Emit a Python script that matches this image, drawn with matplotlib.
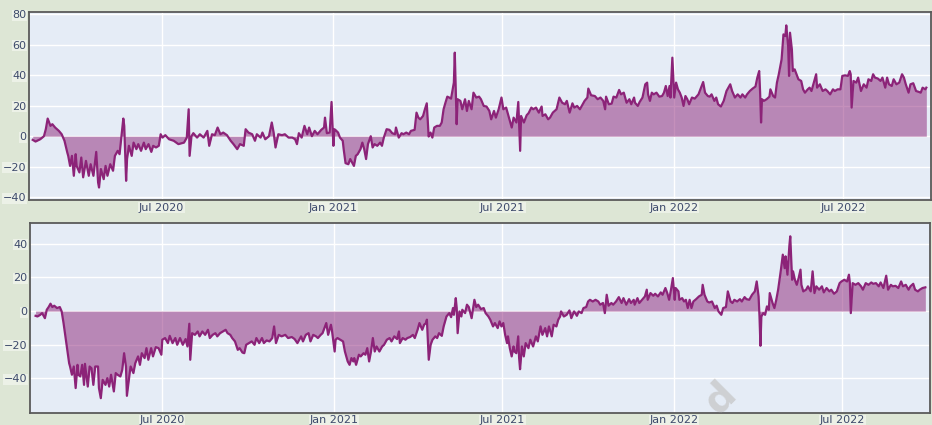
import matplotlib
matplotlib.use("Agg")
import matplotlib.pyplot as plt
import pandas as pd

# upper panel series
top_dates = [
    "2020-02-14", "2020-02-17", "2020-02-22", "2020-02-26", "2020-02-28", "2020-03-01", "2020-03-04", "2020-03-06",
    "2020-03-09", "2020-03-13", "2020-03-16", "2020-03-19", "2020-03-22", "2020-03-23", "2020-03-25", "2020-03-27",
    "2020-03-29", "2020-03-31", "2020-04-01", "2020-04-04", "2020-04-06", "2020-04-08", "2020-04-11", "2020-04-14",
    "2020-04-16", "2020-04-19", "2020-04-22", "2020-04-24", "2020-04-25", "2020-04-27", "2020-04-30", "2020-05-02",
    "2020-05-04", "2020-05-07", "2020-05-10", "2020-05-12", "2020-05-15", "2020-05-17", "2020-05-19", "2020-05-21",
    "2020-05-22", "2020-05-24", "2020-05-25", "2020-05-27", "2020-05-30", "2020-06-01", "2020-06-04", "2020-06-06",
    "2020-06-09", "2020-06-12", "2020-06-14", "2020-06-17", "2020-06-20", "2020-06-22", "2020-06-25", "2020-06-28",
    "2020-06-30", "2020-07-02", "2020-07-05", "2020-07-09", "2020-07-14", "2020-07-19", "2020-07-25", "2020-07-28",
    "2020-07-30", "2020-07-31", "2020-08-02", "2020-08-04", "2020-08-08", "2020-08-11", "2020-08-15", "2020-08-19",
    "2020-08-21", "2020-08-24", "2020-08-27", "2020-08-30", "2020-09-02", "2020-09-05", "2020-09-09", "2020-09-13",
    "2020-09-16", "2020-09-20", "2020-09-23", "2020-09-27", "2020-09-29", "2020-10-02", "2020-10-06", "2020-10-09",
    "2020-10-11", "2020-10-15", "2020-10-17", "2020-10-20", "2020-10-24", "2020-10-27", "2020-10-29", "2020-10-31",
    "2020-11-03", "2020-11-07", "2020-11-10", "2020-11-14", "2020-11-18", "2020-11-21", "2020-11-23", "2020-11-25",
    "2020-11-28", "2020-12-01", "2020-12-04", "2020-12-06", "2020-12-09", "2020-12-12", "2020-12-15", "2020-12-19",
    "2020-12-22", "2020-12-23", "2020-12-25", "2020-12-28", "2020-12-30", "2021-01-01", "2021-01-02", "2021-01-03",
    "2021-01-06", "2021-01-08", "2021-01-11", "2021-01-12", "2021-01-14", "2021-01-17", "2021-01-19", "2021-01-21",
    "2021-01-23", "2021-01-25", "2021-01-27", "2021-01-30", "2021-02-01", "2021-02-03", "2021-02-05", "2021-02-07",
    "2021-02-10", "2021-02-12", "2021-02-14", "2021-02-17", "2021-02-20", "2021-02-22", "2021-02-24", "2021-02-27",
    "2021-03-02", "2021-03-05", "2021-03-08", "2021-03-09", "2021-03-12", "2021-03-15", "2021-03-17", "2021-03-20",
    "2021-03-23", "2021-03-25", "2021-03-29", "2021-03-31", "2021-04-02", "2021-04-04", "2021-04-07", "2021-04-09",
    "2021-04-11", "2021-04-13", "2021-04-15", "2021-04-17", "2021-04-19", "2021-04-22", "2021-04-25", "2021-04-27",
    "2021-04-29", "2021-05-01", "2021-05-03", "2021-05-05", "2021-05-07", "2021-05-10", "2021-05-11", "2021-05-13",
    "2021-05-14", "2021-05-17", "2021-05-19", "2021-05-22", "2021-05-24", "2021-05-26", "2021-05-29", "2021-05-31",
    "2021-06-03", "2021-06-06", "2021-06-08", "2021-06-11", "2021-06-14", "2021-06-17", "2021-06-19", "2021-06-22",
    "2021-06-24", "2021-06-27", "2021-06-30", "2021-07-02", "2021-07-05", "2021-07-08", "2021-07-11", "2021-07-13",
    "2021-07-16", "2021-07-18", "2021-07-20", "2021-07-21", "2021-07-24", "2021-07-27", "2021-07-29", "2021-08-01",
    "2021-08-03", "2021-08-06", "2021-08-09", "2021-08-12", "2021-08-13", "2021-08-16", "2021-08-19", "2021-08-21",
    "2021-08-24", "2021-08-28", "2021-08-31", "2021-09-03", "2021-09-06", "2021-09-08", "2021-09-11", "2021-09-14",
    "2021-09-16", "2021-09-19", "2021-09-22", "2021-09-25", "2021-09-27", "2021-09-30", "2021-10-01", "2021-10-04",
    "2021-10-08", "2021-10-11", "2021-10-14", "2021-10-17", "2021-10-19", "2021-10-20", "2021-10-23", "2021-10-26",
    "2021-10-28", "2021-10-31", "2021-11-03", "2021-11-05", "2021-11-08", "2021-11-11", "2021-11-14", "2021-11-16",
    "2021-11-19", "2021-11-20", "2021-11-23", "2021-11-25", "2021-11-28", "2021-12-01", "2021-12-03", "2021-12-04",
    "2021-12-06", "2021-12-08", "2021-12-10", "2021-12-13", "2021-12-16", "2021-12-19", "2021-12-21", "2021-12-23",
    "2021-12-25", "2021-12-27", "2021-12-28", "2021-12-30", "2022-01-01", "2022-01-03", "2022-01-05", "2022-01-07",
    "2022-01-09", "2022-01-11", "2022-01-13", "2022-01-15", "2022-01-17", "2022-01-20", "2022-01-23", "2022-01-27",
    "2022-01-29", "2022-02-01", "2022-02-03", "2022-02-06", "2022-02-08", "2022-02-10", "2022-02-13", "2022-02-15",
    "2022-02-17", "2022-02-20", "2022-02-23", "2022-02-26", "2022-03-02", "2022-03-04", "2022-03-07", "2022-03-10",
    "2022-03-13", "2022-03-15", "2022-03-18", "2022-03-20", "2022-03-23", "2022-03-26", "2022-03-29", "2022-03-31",
    "2022-04-02", "2022-04-03", "2022-04-04", "2022-04-05", "2022-04-07", "2022-04-10", "2022-04-13", "2022-04-14",
    "2022-04-17", "2022-04-19", "2022-04-21", "2022-04-23", "2022-04-24", "2022-04-26", "2022-04-28", "2022-04-30",
    "2022-05-01", "2022-05-03", "2022-05-04", "2022-05-05", "2022-05-07", "2022-05-08", "2022-05-10", "2022-05-12",
    "2022-05-14", "2022-05-17", "2022-05-19", "2022-05-21", "2022-05-24", "2022-05-26", "2022-05-28", "2022-05-30",
    "2022-06-02", "2022-06-03", "2022-06-06", "2022-06-09", "2022-06-12", "2022-06-14", "2022-06-17", "2022-06-20",
    "2022-06-22", "2022-06-25", "2022-06-28", "2022-06-30", "2022-07-03", "2022-07-06", "2022-07-08", "2022-07-09",
    "2022-07-10", "2022-07-12", "2022-07-15", "2022-07-17", "2022-07-20", "2022-07-23", "2022-07-26", "2022-07-28",
    "2022-07-31", "2022-08-02", "2022-08-04", "2022-08-07", "2022-08-10", "2022-08-12", "2022-08-15", "2022-08-17",
    "2022-08-19", "2022-08-22", "2022-08-24", "2022-08-27", "2022-08-30", "2022-09-02", "2022-09-04", "2022-09-06",
    "2022-09-09", "2022-09-11", "2022-09-14", "2022-09-17", "2022-09-20", "2022-09-22", "2022-09-24", "2022-09-27",
    "2022-09-28",
]
top_values = [
    -2.4, -3.5, -2, 0, 4.6, 11.6, 6.8, 7.9,
    5.7, 3.5, 1.3, -3, -10.7, -12.9, -19.5, -12.9,
    -26, -11.8, -19.5, -23.8, -14, -27, -16.2, -26,
    -18.4, -26, -10.3, -30.4, -33.7, -21.6, -28.2, -19.5,
    -26, -18.4, -22.7, -12.9, -9.6, -11.8, 0, 11.6,
    6.8, -29.3, -15, -6.3, -12.9, -4.2, -8.5, -5.2,
    -9.6, -4.2, -8.5, -5.2, -10.3, -6.3, -7.4, -6.3,
    1.3, -0.9, 0.7, -2, -3, -5.2, -4.2, -0.9,
    17.7, -12.9, 0, 2, -0.9, 1.3, -0.9, 3.5,
    -6.3, 1.3, 0.7, 5.7, 1.3, 2.4, 0.7, -3,
    -5.2, -8.5, -5.2, -6.3, 4.6, 2.4, 1.3, -3,
    1.3, -0.9, 2.4, -2, 0, 9, 2.4, -7.4,
    1.3, 0.7, 1.3, -0.9, -0.9, -2, -5.2, 2,
    -0.9, 6.8, 1.3, 5.7, 0, 3.5, 1.3, 4.2,
    5.7, 12.2, 2, 2.4, 22.5, -6.3, 4.6, 4.2,
    2.4, -0.9, -3, -8.5, -17.7, -18.4, -15, -17.3,
    -19.5, -12.9, -11.8, -8.5, -4.2, -8.5, -15, -5.2,
    0, -7.4, -5.2, -6.3, -4.2, -6.3, -0.9, 4.6,
    4.2, 2, 1.3, 5.7, -0.9, 2, 1.3, 2.4,
    1.3, 3.5, 4.2, 15.5, 12.2, 11.1, 13.3, 17.7,
    21.6, -0.2, 2.4, -0.9, 5.7, 6.8, 6.8, 9,
    17.7, 22, 26, 25.4, 24.7, 35.2, 54.9, 7.9,
    24.3, 23.2, 17.7, 24.3, 16.6, 23.2, 17.7, 28.6,
    25.4, 26, 24.3, 19.9, 19.5, 16.6, 11.1, 16.6,
    12.2, 17.7, 25.4, 17.7, 18.8, 12.2, 5.7, 12.2,
    9, 22.5, -9.6, 13.3, 9, 13.8, 15.1, 18.8,
    17.7, 18.8, 15.5, 19.5, 13.3, 14.4, 11.1, 12.2,
    15.5, 17.7, 25.4, 22, 21, 23.2, 15.5, 21.6,
    18.8, 19.9, 17.7, 21, 23.2, 25.4, 31.3, 26.9,
    26.4, 24.3, 25.4, 23.2, 17.7, 26, 21, 21.4,
    26, 25.4, 30.4, 27.5, 28.6, 22, 24.3, 21,
    25.4, 22, 19.9, 22.5, 25.4, 34.1, 35.2, 27.5,
    23.2, 28.6, 27.5, 28.6, 26, 26.4, 28.6, 33,
    26.4, 33, 25.4, 51.6, 25.4, 35.2, 30.8, 28.6,
    25.4, 19.9, 26.4, 24.3, 21, 25.4, 24.7, 27.5,
    30.8, 35.6, 28.6, 26.4, 26, 27.5, 23.2, 25.4,
    21, 19.5, 23.2, 29.7, 34.1, 29.7, 25.4, 27.5,
    25.4, 27.5, 25.4, 27.5, 29.7, 31.3, 32.6, 38.5,
    42.8, 28.6, 9, 24.3, 23.2, 24.3, 26, 30.8,
    26.4, 25.4, 35.2, 40.7, 43.9, 50.5, 66.9, 65.8,
    72.8, 59.2, 39.6, 68, 57, 42.8, 43.9, 40.7,
    37.4, 36.3, 30.8, 28.6, 30.8, 31.9, 29.7, 34.1,
    40.7, 31.9, 34.1, 29.7, 30.8, 29.7, 27.5, 30.8,
    29.7, 30.8, 30.8, 39.6, 40, 39.6, 42.8, 40.7,
    18.8, 36.3, 35.2, 38.5, 29.7, 34.1, 31.9, 37.4,
    36.3, 40.7, 38.5, 37.9, 36.3, 38.5, 31.9, 38.5,
    34.1, 33, 37.4, 34.1, 35.2, 40.7, 38.5, 34.1,
    28.6, 34.1, 34.8, 29.7, 29.1, 28.6, 31.9, 30.8,
    31.9,
]

# lower panel series
bottom_dates = [
    "2020-02-16", "2020-02-18", "2020-02-21", "2020-02-23", "2020-02-26", "2020-02-28", "2020-03-01", "2020-03-03",
    "2020-03-05", "2020-03-07", "2020-03-10", "2020-03-13", "2020-03-15", "2020-03-17", "2020-03-19", "2020-03-21",
    "2020-03-23", "2020-03-24", "2020-03-26", "2020-03-28", "2020-03-30", "2020-04-01", "2020-04-02", "2020-04-04",
    "2020-04-06", "2020-04-08", "2020-04-09", "2020-04-12", "2020-04-14", "2020-04-16", "2020-04-18", "2020-04-20",
    "2020-04-23", "2020-04-24", "2020-04-26", "2020-04-28", "2020-05-01", "2020-05-03", "2020-05-05", "2020-05-07",
    "2020-05-10", "2020-05-12", "2020-05-14", "2020-05-17", "2020-05-19", "2020-05-21", "2020-05-23", "2020-05-24",
    "2020-05-27", "2020-05-28", "2020-05-31", "2020-06-02", "2020-06-05", "2020-06-07", "2020-06-09", "2020-06-12",
    "2020-06-14", "2020-06-16", "2020-06-19", "2020-06-21", "2020-06-24", "2020-06-27", "2020-06-30", "2020-07-01",
    "2020-07-04", "2020-07-07", "2020-07-09", "2020-07-12", "2020-07-15", "2020-07-17", "2020-07-20", "2020-07-23",
    "2020-07-26", "2020-07-28", "2020-07-30", "2020-07-31", "2020-08-02", "2020-08-05", "2020-08-08", "2020-08-10",
    "2020-08-13", "2020-08-16", "2020-08-19", "2020-08-21", "2020-08-24", "2020-08-27", "2020-08-29", "2020-09-01",
    "2020-09-04", "2020-09-07", "2020-09-09", "2020-09-12", "2020-09-14", "2020-09-17", "2020-09-20", "2020-09-22",
    "2020-09-25", "2020-09-27", "2020-09-29", "2020-10-02", "2020-10-05", "2020-10-08", "2020-10-10", "2020-10-13",
    "2020-10-16", "2020-10-18", "2020-10-21", "2020-10-24", "2020-10-27", "2020-10-29", "2020-10-31", "2020-11-03",
    "2020-11-06", "2020-11-10", "2020-11-13", "2020-11-17", "2020-11-20", "2020-11-23", "2020-11-27", "2020-11-29",
    "2020-12-02", "2020-12-05", "2020-12-07", "2020-12-10", "2020-12-13", "2020-12-15", "2020-12-18", "2020-12-20",
    "2020-12-23", "2020-12-24", "2020-12-26", "2020-12-29", "2020-12-30", "2021-01-02", "2021-01-03", "2021-01-05",
    "2021-01-08", "2021-01-11", "2021-01-13", "2021-01-16", "2021-01-18", "2021-01-20", "2021-01-22", "2021-01-23",
    "2021-01-25", "2021-01-28", "2021-01-30", "2021-02-02", "2021-02-04", "2021-02-06", "2021-02-08", "2021-02-10",
    "2021-02-12", "2021-02-14", "2021-02-16", "2021-02-19", "2021-02-22", "2021-02-24", "2021-02-27", "2021-03-02",
    "2021-03-04", "2021-03-07", "2021-03-10", "2021-03-12", "2021-03-13", "2021-03-16", "2021-03-19", "2021-03-21",
    "2021-03-24", "2021-03-27", "2021-03-29", "2021-04-01", "2021-04-03", "2021-04-06", "2021-04-08", "2021-04-10",
    "2021-04-11", "2021-04-13", "2021-04-15", "2021-04-17", "2021-04-20", "2021-04-22", "2021-04-24", "2021-04-27",
    "2021-04-29", "2021-05-02", "2021-05-05", "2021-05-07", "2021-05-09", "2021-05-10", "2021-05-12", "2021-05-13",
    "2021-05-14", "2021-05-16", "2021-05-18", "2021-05-19", "2021-05-22", "2021-05-24", "2021-05-26", "2021-05-29",
    "2021-06-01", "2021-06-03", "2021-06-05", "2021-06-08", "2021-06-11", "2021-06-13", "2021-06-16", "2021-06-18",
    "2021-06-21", "2021-06-23", "2021-06-26", "2021-06-28", "2021-06-30", "2021-07-02", "2021-07-04", "2021-07-06",
    "2021-07-07", "2021-07-09", "2021-07-11", "2021-07-13", "2021-07-14", "2021-07-16", "2021-07-18", "2021-07-19",
    "2021-07-20", "2021-07-22", "2021-07-24", "2021-07-26", "2021-07-29", "2021-07-31", "2021-08-03", "2021-08-06",
    "2021-08-08", "2021-08-11", "2021-08-13", "2021-08-16", "2021-08-18", "2021-08-20", "2021-08-23", "2021-08-25",
    "2021-08-28", "2021-08-30", "2021-09-01", "2021-09-02", "2021-09-05", "2021-09-08", "2021-09-11", "2021-09-13",
    "2021-09-16", "2021-09-19", "2021-09-21", "2021-09-24", "2021-09-26", "2021-09-29", "2021-10-01", "2021-10-03",
    "2021-10-06", "2021-10-09", "2021-10-12", "2021-10-14", "2021-10-17", "2021-10-19", "2021-10-21", "2021-10-23",
    "2021-10-26", "2021-10-28", "2021-10-31", "2021-11-03", "2021-11-06", "2021-11-08", "2021-11-11", "2021-11-14",
    "2021-11-16", "2021-11-19", "2021-11-20", "2021-11-23", "2021-11-25", "2021-11-28", "2021-12-01", "2021-12-03",
    "2021-12-04", "2021-12-07", "2021-12-10", "2021-12-12", "2021-12-15", "2021-12-18", "2021-12-20", "2021-12-23",
    "2021-12-25", "2021-12-27", "2021-12-29", "2021-12-31", "2022-01-02", "2022-01-03", "2022-01-06", "2022-01-07",
    "2022-01-10", "2022-01-12", "2022-01-14", "2022-01-16", "2022-01-18", "2022-01-20", "2022-01-22", "2022-01-25",
    "2022-01-28", "2022-01-31", "2022-02-01", "2022-02-03", "2022-02-06", "2022-02-08", "2022-02-11", "2022-02-14",
    "2022-02-16", "2022-02-18", "2022-02-21", "2022-02-23", "2022-02-26", "2022-02-28", "2022-03-03", "2022-03-05",
    "2022-03-07", "2022-03-10", "2022-03-13", "2022-03-15", "2022-03-18", "2022-03-20", "2022-03-23", "2022-03-26",
    "2022-03-29", "2022-03-31", "2022-04-02", "2022-04-03", "2022-04-04", "2022-04-05", "2022-04-07", "2022-04-09",
    "2022-04-11", "2022-04-13", "2022-04-14", "2022-04-17", "2022-04-19", "2022-04-21", "2022-04-23", "2022-04-24",
    "2022-04-26", "2022-04-28", "2022-04-30", "2022-05-01", "2022-05-03", "2022-05-05", "2022-05-06", "2022-05-08",
    "2022-05-09", "2022-05-11", "2022-05-13", "2022-05-15", "2022-05-17", "2022-05-18", "2022-05-20", "2022-05-23",
    "2022-05-25", "2022-05-28", "2022-05-30", "2022-06-01", "2022-06-03", "2022-06-06", "2022-06-09", "2022-06-11",
    "2022-06-14", "2022-06-17", "2022-06-19", "2022-06-22", "2022-06-25", "2022-06-28", "2022-06-30", "2022-07-03",
    "2022-07-06", "2022-07-08", "2022-07-09", "2022-07-10", "2022-07-12", "2022-07-15", "2022-07-18", "2022-07-21",
    "2022-07-23", "2022-07-26", "2022-07-29", "2022-08-01", "2022-08-03", "2022-08-06", "2022-08-09", "2022-08-11",
    "2022-08-14", "2022-08-17", "2022-08-19", "2022-08-22", "2022-08-24", "2022-08-27", "2022-08-30", "2022-09-02",
    "2022-09-04", "2022-09-07", "2022-09-10", "2022-09-12", "2022-09-15", "2022-09-17", "2022-09-20", "2022-09-22",
    "2022-09-25", "2022-09-28",
]
bottom_values = [
    -2.8, -3.2, -2.2, -1.2, -4.2, 0.8, 2.4, 4.4,
    2.4, 3.2, 1.8, 2.4, -0.2, -7.1, -15, -23,
    -30.9, -32.9, -37.8, -32.9, -45.7, -31.9, -37.8, -38.8,
    -31.9, -43.8, -31.3, -44.8, -32.9, -33.9, -43.8, -32.9,
    -32.9, -45.7, -51.7, -40.8, -43.8, -39.8, -44.8, -37.8,
    -47.7, -36.8, -37.8, -38.8, -34.9, -25, -32.9, -50.3,
    -36.8, -32.9, -36.8, -30.9, -26.9, -31.9, -25, -27.9,
    -22, -28.9, -22, -26.9, -21.4, -22, -25.9, -17,
    -16, -19, -14.7, -19, -16, -20, -16, -20,
    -16.6, -21, -7.5, -28.9, -13.1, -14.1, -12.1, -15,
    -12.1, -14.1, -11.1, -16, -14.1, -13.1, -15, -13.1,
    -12.1, -11.1, -13.1, -14.1, -16, -18, -23, -22,
    -24.6, -25, -20, -19, -18, -20, -16, -19,
    -16, -19, -17.4, -18, -16, -9.1, -19, -14.1,
    -15, -14.1, -16, -15.4, -16.6, -19, -15, -18,
    -14.1, -13.1, -18, -14.1, -15, -16, -14.1, -13.1,
    -8.7, -7.1, -14.1, -8.1, -11.1, -24, -17, -16,
    -17, -18, -24, -29.9, -31.9, -27.9, -29.9, -27.9,
    -31.9, -25.9, -26.9, -25, -25.9, -22, -29.9, -24,
    -16, -24, -21, -24, -21, -20, -17, -16,
    -18, -15, -16.6, -12.1, -19, -16, -17, -16,
    -15.4, -14.1, -16, -11.1, -7.1, -11.1, -8.1, -7.1,
    -5.1, -28.9, -20, -17, -15, -16, -13.1, -14.7,
    -9.1, -3.2, -1.2, -3.6, 1.8, -2.2, 7.7, 1.8,
    -13.1, -0.2, -3.2, 0.8, -1.2, 3.8, 2.4, -4.2,
    6.7, 2.4, 3.8, 1.2, 1.8, -1.2, -3.2, -5.1,
    -9.1, -7.1, -10.1, -6.1, -9.1, -7.1, -14.1, -19,
    -15, -22, -26.9, -21, -24, -25, -15, -27.9,
    -34.5, -21, -26.9, -19, -22, -17, -21, -15,
    -18, -9.1, -14.1, -10.1, -15, -9.1, -15, -8.1,
    -9.1, -5.1, -3.2, -0.2, -3.2, -2.2, 0.4, -4.2,
    -0.2, -2.8, -0.2, -1.2, 1.8, 2.4, 5.7, 6.7,
    5.7, 6.7, 5.7, 3.8, 4.8, -1.2, 9.7, 3.2,
    4.8, 3.8, 5.7, 8.3, 4.8, 7.7, 3.8, 7.1,
    4.8, 6.7, 3.8, 7.7, 4.8, 6.7, 8.7, 12.7,
    6.7, 10.7, 9.1, 10.3, 8.7, 11.1, 9.7, 13.7,
    10.7, 6.7, 12.7, 19.6, 6.7, 13.7, 11.7, 6.7,
    7.7, 5.7, 6.7, 1.8, 6.7, 1.8, 5.7, 7.1,
    8.7, 9.7, 15.6, 9.7, 5.7, 5.1, 5.7, 1.8,
    3.2, -0.2, -2.2, 1.8, 2.4, 11.7, 5.7, 4.8,
    6.7, 5.7, 7.1, 5.7, 8.3, 7.1, 6.7, 9.7,
    11.7, 17.6, 8.7, -3.2, -20.6, -3.2, -1.2, -2.2,
    2.8, 0.8, 10.7, 4.8, 1.8, 6.7, 12.7, 16.6,
    24.6, 33.5, 25.5, 32.5, 21.6, 38.4, 44.4, 18.6,
    23.6, 18.6, 15.6, 19.6, 24.6, 15.6, 11.7, 12.7,
    14.7, 11.7, 23.6, 10.7, 14.7, 12.7, 14.7, 11.1,
    13.7, 11.7, 12.7, 10.3, 11.7, 16.6, 17.6, 18.6,
    17.6, 21.6, 16.6, -1.2, 16.6, 15.6, 16.6, 14.7,
    12.7, 16.6, 15.6, 17, 16.2, 16.6, 14.7, 17,
    13.7, 21, 12.7, 15.6, 14.7, 15, 13.7, 17.6,
    14.7, 15.6, 12.7, 14.7, 16.2, 12.7, 11.7, 12.7,
    13.7, 14.1,
]

x_ticks = ["2020-07-01", "2021-01-01", "2021-07-01", "2022-01-01", "2022-07-01"]
x_labels = ["Jul 2020", "Jan 2021", "Jul 2021", "Jan 2022", "Jul 2022"]
top_yticks = [-40, -20, 0, 20, 40, 60, 80]
bottom_yticks = [-40, -20, 0, 20, 40]

line_col = "#8c2378"
text_col = "#3d4a6b"

fig = plt.figure(figsize=(9.32, 4.25), dpi=100)
fig.patch.set_facecolor("#dde6d5")


def panel(rect, dates, values, yticks, ylim):
    ax = fig.add_axes(rect)
    ax.set_facecolor("#e5ecf6")
    d = pd.to_datetime(dates)
    ax.fill_between(d, values, 0, color=line_col, alpha=0.5, lw=0)
    ax.plot(d, values, color=line_col, lw=1.6)
    ax.set_xlim(pd.Timestamp("2020-02-10"), pd.Timestamp("2022-10-03"))
    ax.set_ylim(*ylim)
    ax.set_xticks(pd.to_datetime(x_ticks))
    ax.set_xticklabels(x_labels)
    ax.set_yticks(yticks)
    ax.grid(color="white", lw=1)
    ax.set_axisbelow(True)
    ax.tick_params(length=0, labelsize=8, colors=text_col, pad=2)
    for lab in ax.get_xticklabels() + ax.get_yticklabels():
        lab.set_bbox(dict(facecolor="white", edgecolor="none", alpha=0.45, pad=0.4))
    for s in ax.spines.values():
        s.set_color("#5a5a5a")
        s.set_linewidth(1.3)
    return ax


panel([29 / 932, 225 / 425, 902 / 932, 188 / 425], top_dates, top_values, top_yticks, (-41.9, 81.6))
panel([30 / 932, 12.5 / 425, 900 / 932, 189.5 / 425], bottom_dates, bottom_values, bottom_yticks, (-60.2, 52.3))

# faint watermark letter near the bottom edge
fig.text(720 / 932, 27 / 425, "d", fontsize=28, fontweight="bold", color="#c4c4c4",
         alpha=0.7, rotation=45, ha="center", va="center")

fig.savefig("out.png", dpi=100, facecolor=fig.get_facecolor())
